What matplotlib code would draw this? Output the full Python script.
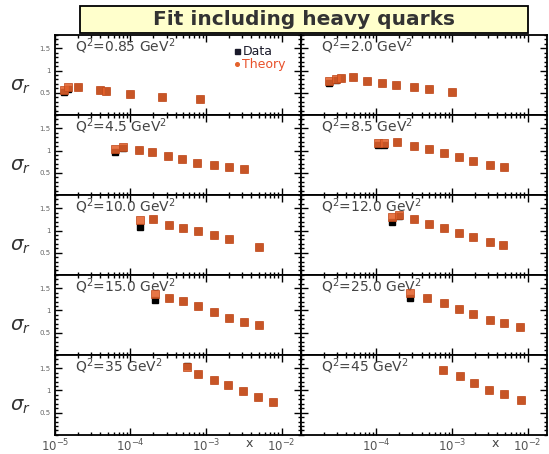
import matplotlib
matplotlib.use('Agg')
import matplotlib.pyplot as plt
import numpy as np
from matplotlib.lines import Line2D
from matplotlib.patches import Rectangle
from matplotlib.ticker import (LogLocator, MultipleLocator, FixedLocator,
                               FuncFormatter, LogFormatterSciNotation)

plt.rcParams['font.family'] = ['DejaVu Sans']
plt.rcParams['mathtext.fontset'] = 'dejavusans'

# %% Reduced cross section vs x, one panel per Q^2 bin
q2_bins = ['0.85', '2.0', '4.5', '8.5', '10.0', '12.0', '15.0', '25.0', '35', '45']

x_085 = [1.3e-5, 1.5e-5, 2.0e-5, 4.0e-5, 4.7e-5, 1.0e-4, 2.6e-4, 8.3e-4]
theory_085 = [0.57, 0.62, 0.62, 0.56, 0.54, 0.48, 0.40, 0.35]
data_085 = [0.51, 0.59, 0.62, 0.56, 0.54, 0.48, 0.40, 0.35]

x_20 = [2.35e-5, 2.9e-5, 3.4e-5, 4.9e-5, 7.4e-5, 1.2e-4, 1.8e-4, 3.1e-4, 5.0e-4, 1.0e-3]
theory_20 = [0.76, 0.80, 0.83, 0.86, 0.76, 0.72, 0.68, 0.63, 0.59, 0.51]
data_20 = [0.72, 0.78, 0.83, 0.86, 0.76, 0.72, 0.68, 0.63, 0.59, 0.51]

x_45 = [6.3e-5, 7.9e-5, 1.3e-4, 1.9e-4, 3.1e-4, 4.8e-4, 7.6e-4, 1.26e-3, 2.0e-3, 3.2e-3]
theory_45 = [1.03, 1.09, 1.01, 0.96, 0.88, 0.81, 0.73, 0.68, 0.64, 0.58]
data_45 = [0.96, 1.06, 1.01, 0.96, 0.88, 0.81, 0.73, 0.68, 0.64, 0.58]

x_85 = [1.05e-4, 1.26e-4, 1.9e-4, 3.1e-4, 5.0e-4, 7.8e-4, 1.23e-3, 1.9e-3, 3.2e-3, 4.9e-3]
theory_85 = [1.17, 1.16, 1.20, 1.10, 1.03, 0.94, 0.86, 0.77, 0.68, 0.63]
data_85 = [1.12, 1.12, 1.20, 1.10, 1.03, 0.94, 0.86, 0.77, 0.68, 0.63]

x_100 = [1.32e-4, 2.0e-4, 3.2e-4, 5.0e-4, 7.9e-4, 1.26e-3, 2.0e-3, 5.0e-3]
theory_100 = [1.23, 1.25, 1.13, 1.06, 0.98, 0.89, 0.80, 0.63]
data_100 = [1.08, 1.25, 1.13, 1.06, 0.98, 0.89, 0.80, 0.63]

x_120 = [1.6e-4, 2.0e-4, 3.1e-4, 4.9e-4, 7.8e-4, 1.23e-3, 1.9e-3, 3.2e-3, 4.8e-3]
theory_120 = [1.30, 1.34, 1.27, 1.15, 1.05, 0.94, 0.85, 0.75, 0.68]
data_120 = [1.19, 1.32, 1.27, 1.15, 1.05, 0.94, 0.85, 0.75, 0.68]

x_150 = [2.1e-4, 3.2e-4, 5.0e-4, 7.9e-4, 1.26e-3, 2.0e-3, 3.2e-3, 5.0e-3]
theory_150 = [1.37, 1.29, 1.21, 1.11, 0.96, 0.84, 0.75, 0.68]
data_150 = [1.24, 1.29, 1.21, 1.11, 0.96, 0.84, 0.75, 0.68]

x_250 = [2.8e-4, 4.7e-4, 7.8e-4, 1.23e-3, 1.9e-3, 3.2e-3, 4.9e-3, 7.9e-3]
theory_250 = [1.40, 1.29, 1.16, 1.03, 0.91, 0.79, 0.71, 0.62]
data_250 = [1.29, 1.29, 1.16, 1.03, 0.91, 0.79, 0.71, 0.62]

x_35 = [5.6e-4, 7.8e-4, 1.26e-3, 1.95e-3, 3.1e-3, 4.9e-3, 7.6e-3]
theory_35 = [1.53, 1.38, 1.24, 1.13, 0.98, 0.86, 0.75]
data_35 = [1.55, 1.38, 1.24, 1.13, 0.98, 0.86, 0.75]

x_45gev = [7.6e-4, 1.29e-3, 1.95e-3, 3.1e-3, 4.9e-3, 8.1e-3]
theory_45gev = [1.46, 1.33, 1.16, 1.01, 0.92, 0.79]
data_45gev = [1.46, 1.33, 1.16, 1.01, 0.92, 0.79]

panels = [(x_085, theory_085, data_085), (x_20, theory_20, data_20),
          (x_45, theory_45, data_45), (x_85, theory_85, data_85),
          (x_100, theory_100, data_100), (x_120, theory_120, data_120),
          (x_150, theory_150, data_150), (x_250, theory_250, data_250),
          (x_35, theory_35, data_35), (x_45gev, theory_45gev, data_45gev)]

th_color = '#e4622c'

fig, axes = plt.subplots(5, 2, figsize=(5.49, 4.54), dpi=100)
fig.subplots_adjust(left=0.100, right=0.996, top=0.923, bottom=0.042,
                    hspace=0, wspace=0)

sci = LogFormatterSciNotation()

def xlabel_right(v, pos):
    # the left neighbour already shows 10^-5
    if v < 2e-5:
        return ''
    return sci(v, pos)

for i, ax in enumerate(axes.flat):
    row, col = divmod(i, 2)
    xs, th, dat = panels[i]
    ax.plot(xs, dat, 's', color='black', ms=4.6, zorder=3)
    ax.plot(xs, th, 's', color=th_color, mec='#c04a1c', mew=0.6,
            ms=5.2, alpha=0.88, zorder=4)

    ax.set_xscale('log')
    ax.set_xlim(1e-5, 0.018)
    ax.set_ylim(0, 1.8)
    ax.xaxis.set_major_locator(LogLocator(base=10, numticks=10))
    ax.xaxis.set_minor_locator(LogLocator(base=10, subs=np.arange(2, 10), numticks=10))
    ax.yaxis.set_major_locator(FixedLocator([0.5, 1.0, 1.5]))
    ax.yaxis.set_minor_locator(MultipleLocator(0.1))
    ax.yaxis.set_major_formatter(FuncFormatter(lambda v, p: f'{v:g}'))

    ax.tick_params(which='both', direction='in', top=True, right=True, width=1.0)
    ax.tick_params(which='major', length=5)
    ax.tick_params(which='minor', length=2.5)
    ax.tick_params(axis='x', labelsize=8.5, labelcolor='#555555', pad=2)
    ax.tick_params(axis='y', labelsize=5, labelcolor='#666666', pad=3)
    for s in ax.spines.values():
        s.set_linewidth(1.3)

    ax.text(0.08, 0.86, 'Q$^2$=' + q2_bins[i] + ' GeV$^2$', transform=ax.transAxes,
            fontsize=10, color='#444444', va='center', ha='left')

    if col == 0:
        ax.set_ylabel(r'$\sigma_r$', rotation=0, fontsize=14, va='center', ha='center',
                      color='#333333')
        ax.yaxis.set_label_coords(-0.14, 0.36)
    else:
        ax.tick_params(axis='y', labelleft=False)

    if row < 4:
        ax.tick_params(axis='x', labelbottom=False)
    else:
        ax.set_xlabel('x', fontsize=9, color='#444444')
        ax.xaxis.set_label_coords(0.79, -0.02)
        if col == 1:
            ax.xaxis.set_major_formatter(FuncFormatter(xlabel_right))

# Data / Theory key in the first panel
handles = [Line2D([], [], marker='s', color='#1a1a2a', ls='none', ms=3.6),
           Line2D([], [], marker='o', color=th_color, ls='none', ms=2.6)]
axes[0, 0].legend(handles, ['Data', 'Theory'], loc='upper right',
                  bbox_to_anchor=(0.965, 0.95), frameon=False, fontsize=9,
                  handlelength=0.4, handletextpad=0.2, borderpad=0.0,
                  labelspacing=0.0, labelcolor=['#1a1a2a', '#e8502a'])

# Title box
fig.patches.append(Rectangle((0.146, 0.927), 0.816, 0.060, transform=fig.transFigure,
                             facecolor='#ffffcc', edgecolor='black', lw=1.3, zorder=0))
fig.text(0.554, 0.957, 'Fit including heavy quarks', ha='center', va='center',
         fontsize=14.5, fontweight='bold', color='#333333')

plt.savefig('out.png', dpi=100)
